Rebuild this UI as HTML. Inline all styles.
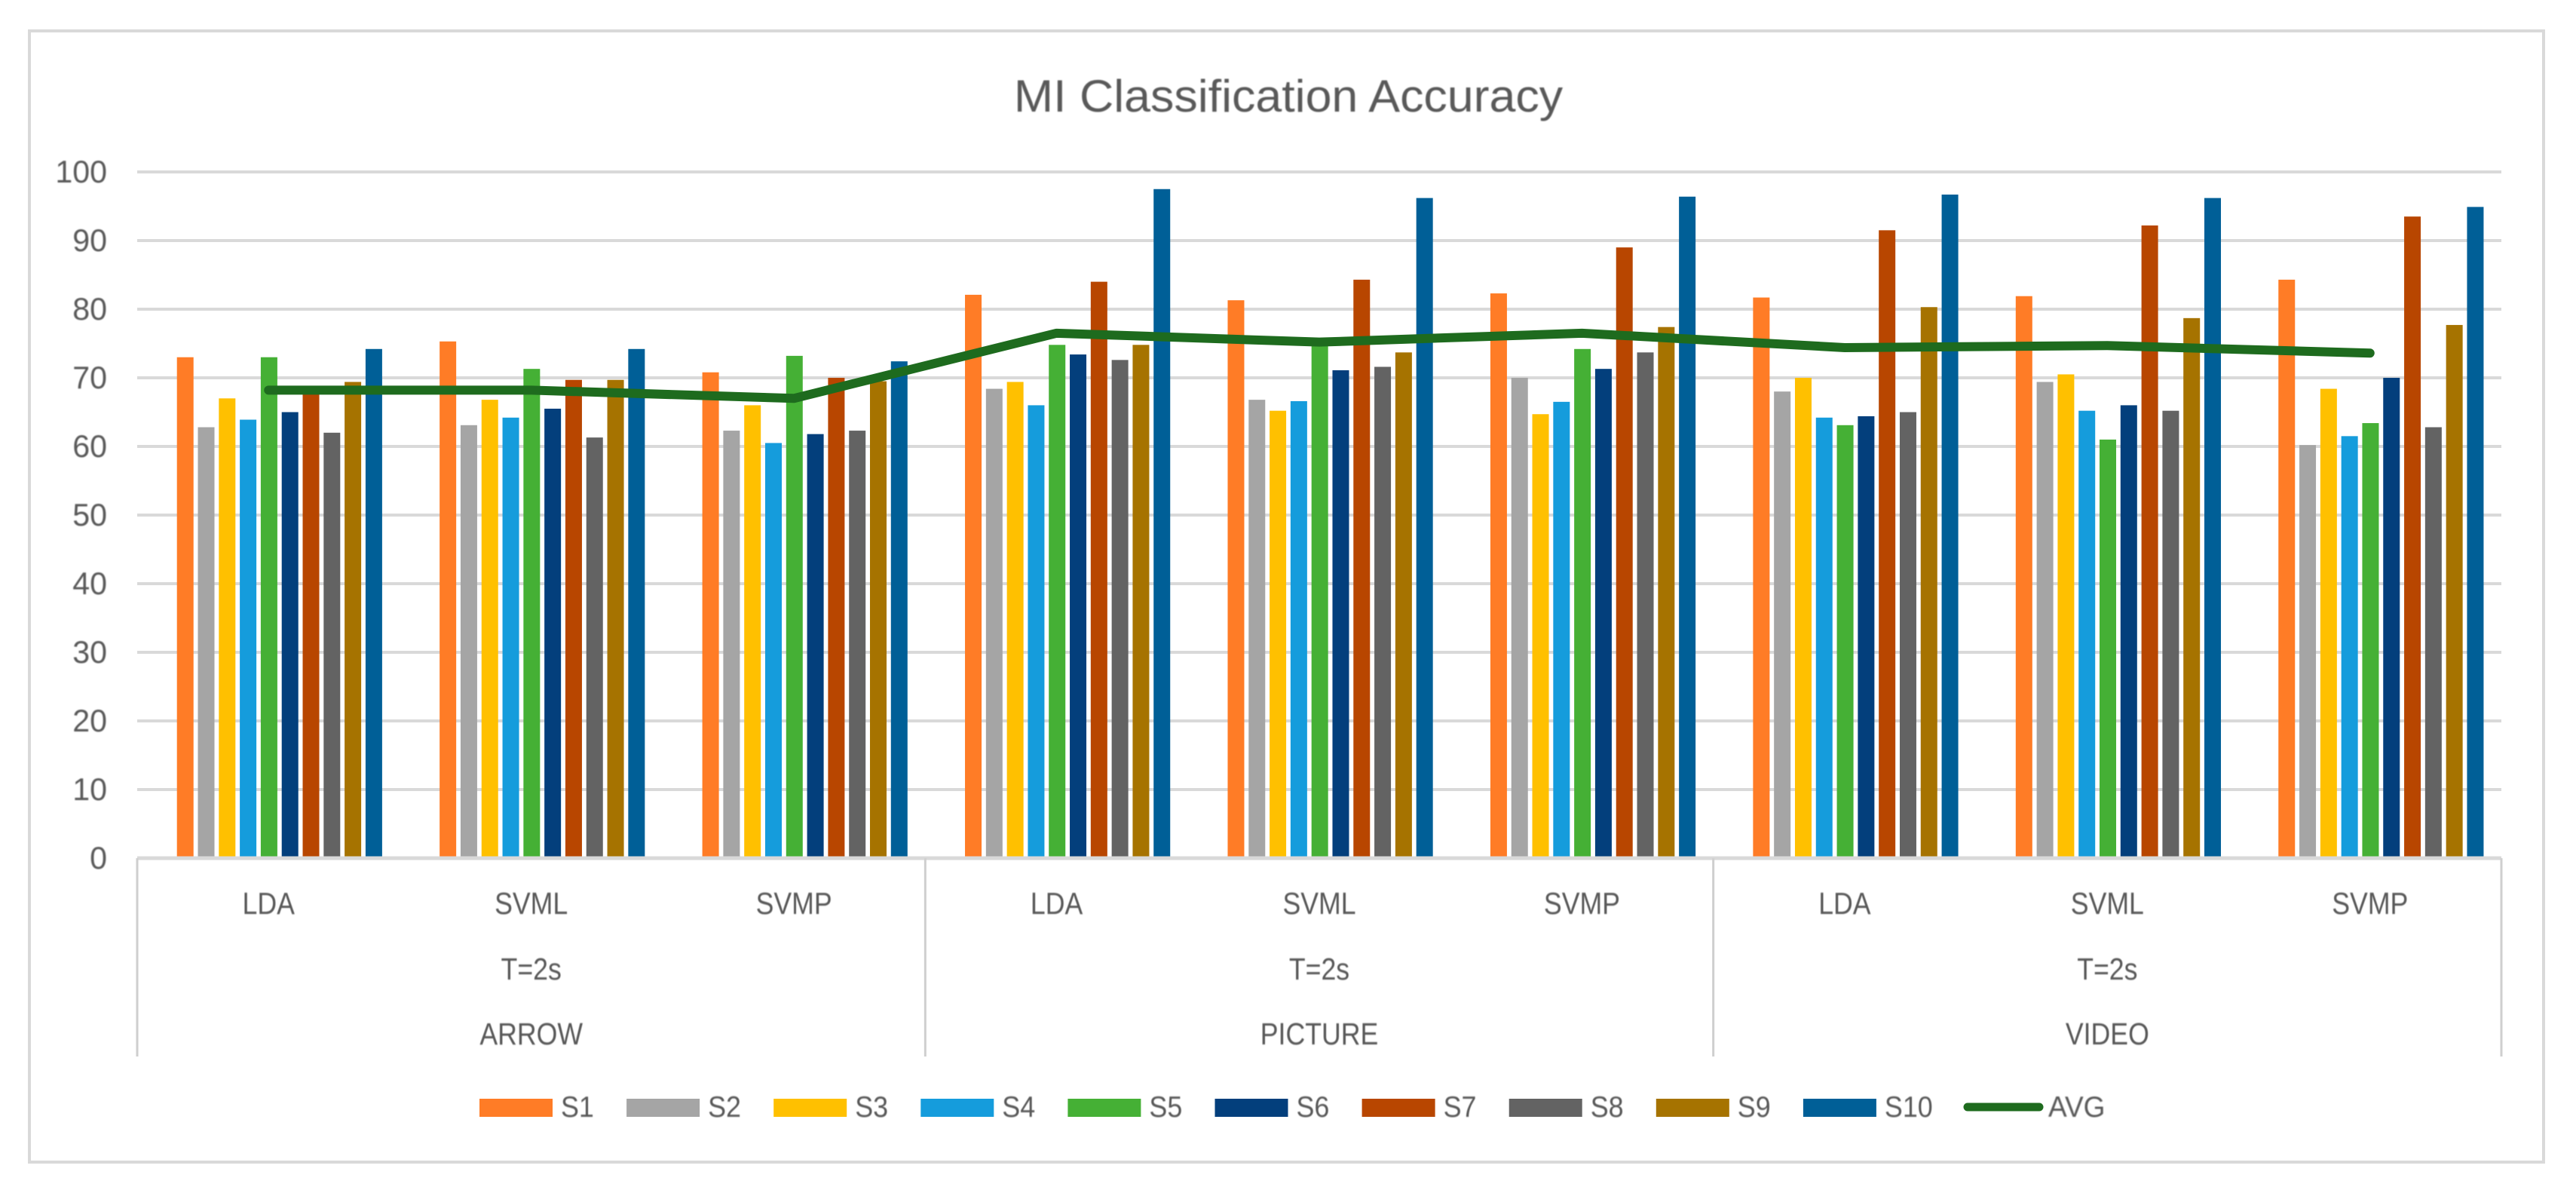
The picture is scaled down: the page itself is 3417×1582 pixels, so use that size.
<!DOCTYPE html>
<html lang="en">
<head>
<meta charset="utf-8">
<title>MI Classification Accuracy</title>
<style>
html,body{margin:0;padding:0;background:#fff;width:3417px;height:1582px;overflow:hidden}
svg{display:block}
text{font-family:"Liberation Sans",sans-serif;fill:#595959;filter:blur(0.7px)}
</style>
</head>
<body>
<svg id="chart" xmlns="http://www.w3.org/2000/svg" width="3417" height="1582" viewBox="0 0 3417 1582"></svg>
<script>
const titleText = "MI Classification Accuracy";
const yTicks = [0, 10, 20, 30, 40, 50, 60, 70, 80, 90, 100];
const classifiers = ["LDA", "SVML", "SVMP", "LDA", "SVML", "SVMP", "LDA", "SVML", "SVMP"];
const windows = ["T=2s", "T=2s", "T=2s"];
const stimuli = ["ARROW", "PICTURE", "VIDEO"];
const seriesNames = ["S1", "S2", "S3", "S4", "S5", "S6", "S7", "S8", "S9", "S10"];
const seriesColors = ["#FF7C26", "#A5A5A5", "#FFC000", "#159CDC", "#45B035", "#033F7C", "#B84600", "#636363", "#A67300", "#005F97"];
const s1 = [73, 75.3, 70.8, 82.1, 81.3, 82.3, 81.7, 81.9, 84.3];
const s2 = [62.8, 63.1, 62.3, 68.4, 66.8, 70, 68, 69.4, 60.2];
const s3 = [67, 66.8, 66, 69.4, 65.2, 64.7, 70, 70.5, 68.4];
const s4 = [63.9, 64.2, 60.5, 66, 66.6, 66.5, 64.2, 65.2, 61.5];
const s5 = [73, 71.3, 73.2, 74.8, 75, 74.2, 63.1, 61, 63.4];
const s6 = [65, 65.5, 61.8, 73.4, 71.1, 71.3, 64.4, 66, 70];
const s7 = [68, 69.7, 70, 84, 84.3, 89, 91.5, 92.2, 93.5];
const s8 = [62, 61.3, 62.3, 72.6, 71.6, 73.7, 65, 65.2, 62.8];
const s9 = [69.4, 69.7, 69.5, 74.8, 73.7, 77.4, 80.3, 78.7, 77.7];
const s10 = [74.2, 74.2, 72.4, 97.5, 96.2, 96.4, 96.7, 96.2, 94.9];
const avg = [68.2, 68.2, 67, 76.5, 75.2, 76.5, 74.4, 74.7, 73.6];
const barSeries = [s1, s2, s3, s4, s5, s6, s7, s8, s9, s10];

const NS = "http://www.w3.org/2000/svg";
const svg = document.getElementById("chart");
const plotL = 182, plotR = 3318, yZero = 1138, yFull = 228, axisBottom = 1401;
const catW = (plotR - plotL) / classifiers.length;
const barPitch = 27.8, barW = 22, barOffset = 52.7;
const GRID = "#d9d9d9";

function yScale(v) { return yZero - (v / 100) * (yZero - yFull); }
function catCenter(i) { return plotL + catW * (i + 0.5); }
function barLeft(c, s) { return plotL + barOffset + catW * c + barPitch * s; }

function el(tag, attrs) {
  const n = document.createElementNS(NS, tag);
  for (const k in attrs) n.setAttribute(k, attrs[k]);
  return n;
}
function label(str, x, y, size, sx, anchor) {
  const t = el("text", {
    transform: "translate(" + x + " " + y + ") scale(" + sx + " 1)",
    "font-size": size,
    "text-anchor": anchor
  });
  t.textContent = str;
  return t;
}

const frame = el("rect", {x: 39, y: 41, width: 3335, height: 1500, fill: "#ffffff", stroke: GRID, "stroke-width": 4});


svg.appendChild(frame);

const title = label(titleText, 1709, 148, 60, 1.045, "middle");


svg.appendChild(title);

yTicks.forEach(function (v) {
  if (v > 0) {
    const g = el("line", {x1: plotL, x2: plotR, y1: yScale(v), y2: yScale(v), stroke: GRID, "stroke-width": 4});
    
    
    svg.appendChild(g);
  }
  const t = label(String(v), 142, yScale(v) + 14, 42, 0.98, "end");
  
  
  svg.appendChild(t);
});

barSeries.forEach(function (vals, s) {
  vals.forEach(function (v, c) {
    const r = el("rect", {x: barLeft(c, s), y: yScale(v), width: barW, height: yZero - yScale(v), fill: seriesColors[s]});
    
    
    svg.appendChild(r);
  });
});

const baseline = el("line", {x1: plotL, x2: plotR, y1: yZero, y2: yZero, stroke: GRID, "stroke-width": 5});


svg.appendChild(baseline);

for (let i = 0; i <= stimuli.length; i++) {
  const x = plotL + i * 3 * catW;
  const d = el("line", {x1: x, x2: x, y1: yZero, y2: axisBottom, stroke: "#cfcfcf", "stroke-width": 3});
  
  
  svg.appendChild(d);
}

classifiers.forEach(function (c, i) {
  const t = label(c, catCenter(i), 1212, 41, 0.87, "middle");
  
  
  svg.appendChild(t);
});
windows.forEach(function (w, i) {
  const t = label(w, catCenter(i * 3 + 1), 1299, 41, 0.87, "middle");
  
  
  svg.appendChild(t);
});
stimuli.forEach(function (w, i) {
  const t = label(w, catCenter(i * 3 + 1), 1385, 41, 0.87, "middle");
  
  
  svg.appendChild(t);
});

const avgLine = el("polyline", {
  points: avg.map(function (v, i) { return catCenter(i) + "," + yScale(v); }).join(" "),
  fill: "none", stroke: "#1E6B1E", "stroke-width": 12,
  "stroke-linecap": "round", "stroke-linejoin": "round"
});


svg.appendChild(avgLine);

seriesNames.forEach(function (n, i) {
  const x = 636 + 195.1 * i;
  const sw = el("rect", {x: x, y: 1457, width: 97, height: 24, fill: seriesColors[i]});
  
  
  svg.appendChild(sw);
  const t = label(n, x + 108, 1481, 39, 0.92, "start");
  
  
  svg.appendChild(t);
});
const avgKey = el("line", {x1: 2610, x2: 2705, y1: 1468, y2: 1468, stroke: "#1E6B1E", "stroke-width": 11, "stroke-linecap": "round"});


svg.appendChild(avgKey);
const avgLabel = label("AVG", 2717, 1481, 39, 0.95, "start");


svg.appendChild(avgLabel);
</script>
</body>
</html>
